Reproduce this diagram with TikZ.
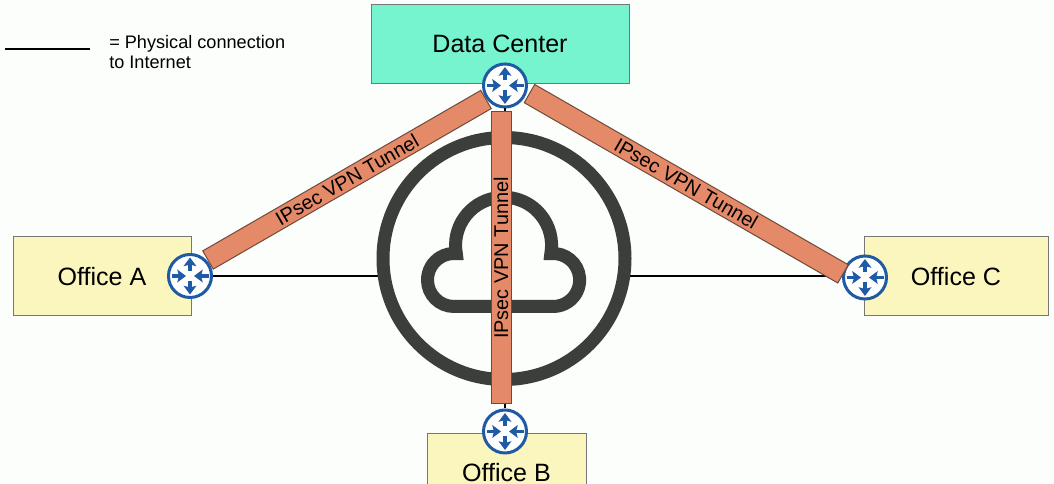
\documentclass[tikz,border=0pt]{standalone}
\usepackage{fontspec}
\setmainfont{Liberation Sans}
\usetikzlibrary{arrows.meta,calc}
\pgfdeclarelayer{under}
\pgfsetlayers{under,main}
\definecolor{bgc}{HTML}{FCFEFC}
\definecolor{dcfill}{HTML}{76F3CF}
\definecolor{officefill}{HTML}{FAF6BE}
\definecolor{tunnelfill}{HTML}{E58A68}
\definecolor{tunneledge}{HTML}{6E4A3C}
\definecolor{routerblue}{HTML}{1F5AA6}
\definecolor{clouddark}{HTML}{3C3E3C}
\definecolor{boxedge}{HTML}{777777}
\tikzset{
  x=0.75pt,y=0.75pt,
  sitebox/.style={draw=boxedge,line width=0.75pt,font=\fontsize{18.8pt}{22pt}\selectfont,text=black,inner sep=0pt,minimum height=79*0.75pt},
  tunnelbox/.style={draw=tunneledge,fill=tunnelfill,line width=0.75pt,inner sep=0pt,minimum height=21*0.75pt,font=\fontsize{14.9pt}{16pt}\selectfont,text=black},
  routernode/.style={circle,draw=routerblue,fill=white,line width=2.25pt,inner sep=0pt,minimum size=43*0.75pt},
  routerarrow/.style={routerblue,line width=2.4pt,-{Stealth[width=9.5pt,length=6.5pt,inset=1.2pt]}},
  linkline/.style={black,line width=1.5pt},
  routericon/.pic={
    \draw[routerarrow] (0,5) -- (0,18.5);
    \draw[routerarrow] (0,-5) -- (0,-18.5);
    \draw[routerarrow] (-18.5,0) -- (-4,0);
    \draw[routerarrow] (18.5,0) -- (4,0);
  }
}
\begin{document}
\begin{tikzpicture}
\useasboundingbox (0,0) rectangle (1054,484);
\clip (0,0) rectangle (1054,484);

% routers
\node[routernode] (rdc) at (505,398.5) {};
\node[routernode] (ra) at (190,208) {};
\node[routernode] (rc) at (865,206.5) {};
\node[routernode] (rb) at (505,52.5) {};

\begin{pgfonlayer}{under}
\fill[bgc] (0,0) rectangle (1054,484);

% legend
\coordinate (legA) at (5,435);
\coordinate (legB) at (90,435);
\draw[linkline] (legA) -- (legB);
\node[anchor=north west,align=left,inner sep=0pt,font=\fontsize{13.6pt}{15.2pt}\selectfont] (legtext) at (109,449) {= Physical connection\\to Internet};

% sites
\node[sitebox,fill=dcfill,minimum width=258*0.75pt] (dc) at (500,440) {Data Center};
\node[sitebox,fill=officefill,minimum width=178*0.75pt] (oa) at (102,207.5) {Office A};
\node[sitebox,fill=officefill,minimum width=184*0.75pt] (oc) at (956,207.5) {Office C};
\node[sitebox,fill=officefill,minimum width=159*0.75pt] (ob) at (506.5,11) {Office B};

% internet ring and cloud
\coordinate (ringc) at (504,225.5);
\draw[linkline] (ra) -- (ringc |- ra);
\draw[linkline] (ringc |- ra) -- (rc.west |- ra);
\node[circle,draw=clouddark,line width=9.75pt,fill=bgc,inner sep=0pt,minimum size=242*0.75pt] (ring) at (ringc) {};
\draw[clouddark,line width=9.75pt,line join=miter,miter limit=10]
  (454,177.5) arc[start angle=270,end angle=85,radius=26.5]
  arc[start angle=190,end angle=-10,radius=48]
  arc[start angle=95,end angle=-90,radius=26.5] -- cycle;
\end{pgfonlayer}

% tunnels
\node[tunnelbox,minimum width=321*0.75pt,rotate=30] (ta) at (347,304.25) {IPsec VPN Tunnel};
\node[tunnelbox,minimum width=361.7*0.75pt,rotate=-29.9] (tc) at (686.25,300.25) {IPsec VPN Tunnel};
\node[tunnelbox,minimum width=292*0.75pt,minimum height=20*0.75pt,rotate=90] (tv) at (501,226) {IPsec VPN Tunnel};
\draw[black,line width=0.9pt] (rdc.south) -- (rdc.south |- tv.east);
\draw[black,line width=0.9pt] (rb.north) -- (rb.north |- tv.west);

\path (rdc) pic {routericon};
\path (ra) pic {routericon};
\path (rc) pic {routericon};
\path (rb) pic {routericon};
\end{tikzpicture}
\end{document}
